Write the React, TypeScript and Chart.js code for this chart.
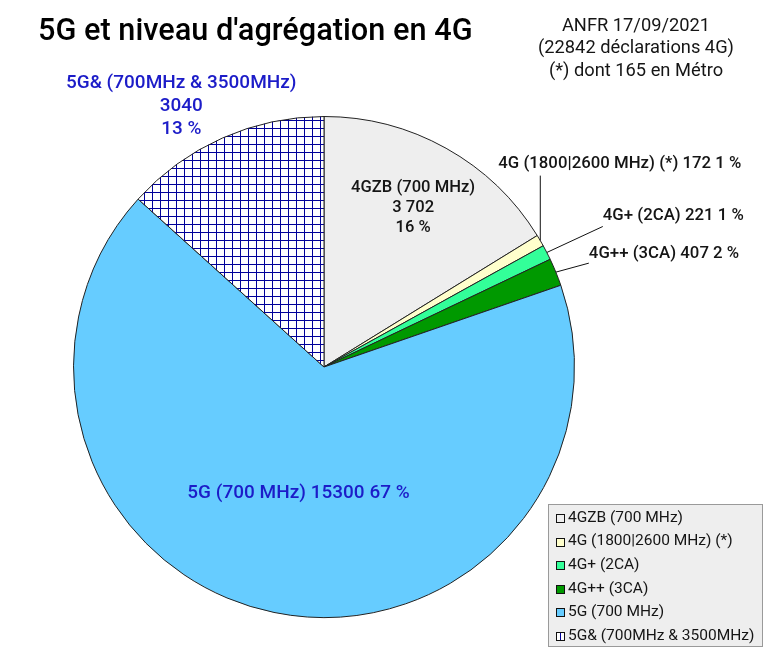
import React, { useEffect, useRef } from "react";
import { Chart, registerables } from "chart.js";

Chart.register(...registerables);

// Données ANFR 17/09/2021
const categories = [
  "4GZB (700 MHz)",
  "4G (1800|2600 MHz) (*)",
  "4G+ (2CA)",
  "4G++ (3CA)",
  "5G (700 MHz)",
  "5G& (700MHz & 3500MHz)",
];
const counts = [3702, 172, 221, 407, 15300, 3040];
const countTexts = ["3 702", "172", "221", "407", "15300", "3040"];
const percents = [16, 1, 1, 2, 67, 13];

const title = "5G et niveau d'agrégation en 4G";
const noteLines = ["ANFR 17/09/2021", "(22842 déclarations 4G)", "(*) dont 165 en Métro"];

const FONT = "Roboto, 'Noto Sans', sans-serif";
const FONT_MED = "'Roboto Medium', Roboto, 'Noto Sans', sans-serif";
const BLUE_TEXT = "#1c1cc8";
const DARK_TEXT = "#151515";

function makeGridPattern(ctx: CanvasRenderingContext2D): CanvasPattern | string {
  const c = document.createElement("canvas");
  c.width = 8;
  c.height = 8;
  const p = c.getContext("2d");
  if (!p) return "#ffffff";
  p.fillStyle = "#ffffff";
  p.fillRect(0, 0, 8, 8);
  p.fillStyle = "#000099";
  p.fillRect(0, 0, 1, 8);
  p.fillRect(0, 0, 8, 1);
  return ctx.createPattern(c, "repeat") || "#ffffff";
}

// placement des étiquettes (relatif à l'arc)
type LabelSpec =
  | { kind: "inside"; factor: number; lines: (i: number) => string[]; size: number; lh: number; color: string }
  | { kind: "outside"; line?: [number, number]; text: [number, number]; align: CanvasTextAlign; lines: (i: number) => string[]; size: number; lh: number; color: string };

const oneLine = (i: number) => [`${categories[i]} ${countTexts[i]} ${percents[i]} %`];
const threeLines = (i: number) => [categories[i], countTexts[i], percents[i] + " %"];

const labelSpecs: LabelSpec[] = [
  { kind: "inside", factor: 0.73, lines: threeLines, size: 16.6, lh: 20, color: DARK_TEXT },
  { kind: "outside", line: [0, -65], text: [-42, -78], align: "left", lines: oneLine, size: 16.8, lh: 20, color: DARK_TEXT },
  { kind: "outside", line: [56, -26], text: [56, -37], align: "left", lines: oneLine, size: 16.8, lh: 20, color: DARK_TEXT },
  { kind: "outside", line: [33, -9], text: [33, -19], align: "left", lines: oneLine, size: 16.8, lh: 20, color: DARK_TEXT },
  { kind: "inside", factor: 0.51, lines: oneLine, size: 19, lh: 22, color: BLUE_TEXT },
  { kind: "outside", text: [-41, -33], align: "center", lines: threeLines, size: 19, lh: 23, color: BLUE_TEXT },
];

const sliceLabels = {
  id: "sliceLabels",
  afterDatasetsDraw(chart: Chart) {
    const ctx = chart.ctx;
    const arcs = chart.getDatasetMeta(0).data as any[];
    ctx.save();
    ctx.textBaseline = "middle";
    arcs.forEach((arc, i) => {
      const spec = labelSpecs[i];
      const { x, y, startAngle, endAngle, outerRadius } = arc.getProps(
        ["x", "y", "startAngle", "endAngle", "outerRadius"],
        true
      );
      const mid = (startAngle + endAngle) / 2;
      const lines = spec.lines(i);
      ctx.fillStyle = spec.color;
      ctx.font = `500 ${spec.size}px ${FONT_MED}`;
      if (spec.kind === "inside") {
        const cx = x + Math.cos(mid) * outerRadius * spec.factor;
        const cy = y + Math.sin(mid) * outerRadius * spec.factor;
        ctx.textAlign = "center";
        lines.forEach((t, k) => {
          ctx.fillText(t, cx, cy + (k - (lines.length - 1) / 2) * spec.lh);
        });
      } else {
        const ex = x + Math.cos(mid) * outerRadius;
        const ey = y + Math.sin(mid) * outerRadius;
        if (spec.line) {
          ctx.strokeStyle = "#111111";
          ctx.lineWidth = 1;
          ctx.beginPath();
          ctx.moveTo(ex, ey);
          ctx.lineTo(ex + spec.line[0], ey + spec.line[1]);
          ctx.stroke();
        }
        ctx.textAlign = spec.align;
        const tx = ex + spec.text[0];
        const ty = ey + spec.text[1];
        lines.forEach((t, k) => {
          ctx.fillText(t, tx, ty + (k - (lines.length - 1) / 2) * spec.lh);
        });
      }
    });
    ctx.restore();
  },
};

const headerAndLegend = {
  id: "headerAndLegend",
  afterDraw(chart: Chart) {
    const ctx = chart.ctx;
    ctx.save();
    // titre
    ctx.fillStyle = "#000000";
    ctx.font = `500 30.7px ${FONT_MED}`;
    ctx.textAlign = "left";
    ctx.textBaseline = "middle";
    ctx.fillText(title, 38, 31);
    // note
    ctx.font = `400 18.3px ${FONT}`;
    ctx.fillStyle = DARK_TEXT;
    ctx.textAlign = "center";
    noteLines.forEach((t, k) => ctx.fillText(t, 636, 26 + k * 22.5));

    // légende
    const bx = 548.5, by = 504.5, bw = 214, bh = 142;
    ctx.fillStyle = "#eeeeee";
    ctx.fillRect(bx, by, bw, bh);
    ctx.strokeStyle = "#9a9a9a";
    ctx.lineWidth = 1;
    ctx.strokeRect(bx, by, bw, bh);
    const ds = chart.data.datasets[0] as any;
    ctx.font = `400 15.5px ${FONT}`;
    ctx.textAlign = "left";
    (chart.data.labels as string[]).forEach((lab, i) => {
      const yy = 518 + i * 23.6;
      ctx.fillStyle = ds.backgroundColor[i];
      ctx.fillRect(556, Math.round(yy - 4), 8, 8);
      ctx.strokeStyle = "#111111";
      ctx.strokeRect(556.5, Math.round(yy - 4) + 0.5, 8, 8);
      ctx.fillStyle = DARK_TEXT;
      ctx.fillText(lab, 568, yy);
    });
    ctx.restore();
  },
};

export default function App() {
  const canvasRef = useRef<HTMLCanvasElement>(null);
  const chartRef = useRef<Chart | null>(null);

  useEffect(() => {
    if (!canvasRef.current) return;
    const ctx = canvasRef.current.getContext("2d");
    if (!ctx) return;
    if (chartRef.current) chartRef.current.destroy();

    const colors = ["#eeeeee", "#ffffcc", "#33ff99", "#009900", "#66ccff", makeGridPattern(ctx)];

    chartRef.current = new Chart(ctx, {
      type: "pie",
      data: {
        labels: categories,
        datasets: [
          {
            data: counts,
            backgroundColor: colors as any,
            borderColor: "#222222",
            borderWidth: 1,
          },
        ],
      },
      options: {
        responsive: false,
        animation: false,
        events: [],
        layout: { padding: { left: 73, right: 191, top: 116, bottom: 35 } },
        plugins: {
          legend: { display: false },
          tooltip: { enabled: false },
          title: { display: false },
        },
      },
      plugins: [sliceLabels, headerAndLegend],
    });

    return () => {
      chartRef.current?.destroy();
      chartRef.current = null;
    };
  }, []);

  return (
    <div style={{ position: "absolute", left: 0, top: 0, width: 766, height: 653, background: "#ffffff" }}>
      <canvas ref={canvasRef} width={766} height={653} />
    </div>
  );
}
